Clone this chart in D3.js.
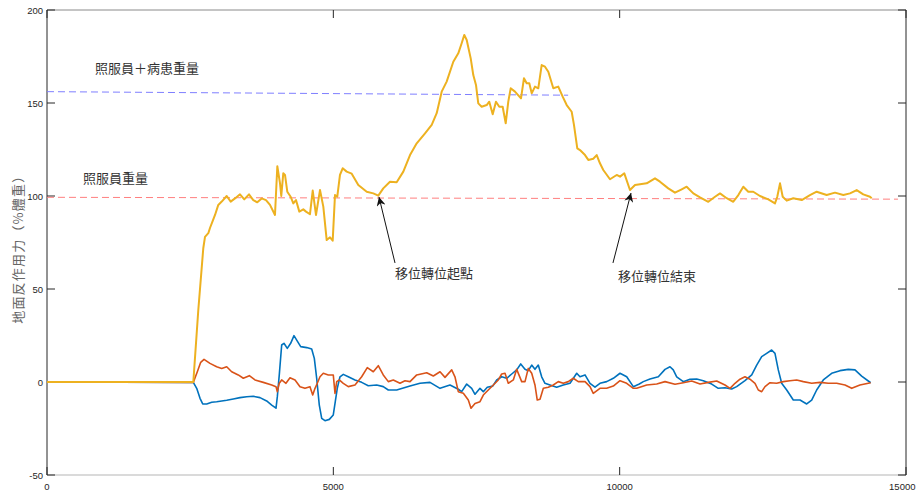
<!DOCTYPE html>
<html>
<head>
<meta charset="utf-8">
<script src="https://cdn.jsdelivr.net/npm/d3@7"></script>
<style>
  body { margin: 0; background: #fff; }
  svg { display: block; }
  .tick-label { font-family: "Liberation Sans", Arial, sans-serif; font-size: 9.5px; fill: #262626; }
  .cjk { font-family: "Noto Sans CJK TC", "Noto Sans CJK SC", sans-serif; fill: #333; }
</style>
</head>
<body>
<div id="chart"></div>
<script>
// vertical ground reaction force (orange), [time, %BW]
const vertical = [
  [0, 0], [500, 0], [1000, 0], [1500, 0], [2000, 0], [2555, 0],
  [2642, 38.7], [2729, 71.9], [2759, 78], [2817, 80], [2846, 82.8], [2899, 87], [2934, 89.8],
  [2991, 95.2], [3051, 97], [3138, 100], [3208, 97], [3283, 98.7], [3370, 100.9], [3445, 98.2],
  [3527, 100.9], [3602, 97.8], [3672, 96.6], [3749, 98.7], [3824, 97.8], [3894, 95.2], [3981, 89.8],
  [4022, 116], [4069, 106.8], [4091, 100], [4126, 112.2], [4156, 111.3], [4196, 102.3], [4255, 99.6],
  [4301, 96], [4348, 97.8], [4406, 91.6], [4476, 92.8], [4523, 91.6], [4592, 90.2], [4640, 102.9],
  [4697, 89.8], [4767, 103.2], [4825, 94.3], [4884, 76.3], [4942, 77.8], [4989, 76], [5029, 100.5],
  [5069, 99.6], [5116, 111.3], [5163, 114.9], [5233, 113.1], [5321, 112], [5436, 105.9], [5583, 102.3],
  [5698, 101.4], [5785, 100.2], [5872, 104.1], [5989, 107.7], [6106, 107.4], [6222, 113.1], [6339, 122],
  [6456, 128.3], [6601, 133.7], [6718, 138.2], [6805, 144.5], [6892, 156.1], [6979, 161.5], [7095, 172.2],
  [7182, 176.7], [7241, 182.1], [7287, 186.6], [7329, 183.9], [7399, 174], [7444, 165], [7491, 159.7],
  [7531, 149.8], [7590, 148], [7678, 148.9], [7723, 150.7], [7783, 143.9], [7840, 150.7], [7898, 148],
  [7957, 148], [8010, 139.1], [8055, 150.7], [8097, 157.9], [8172, 156.1], [8277, 152.5], [8329, 163.3],
  [8376, 160.6], [8422, 160.6], [8464, 155.2], [8521, 158.8], [8579, 157.9], [8638, 170.4], [8696, 169.5],
  [8754, 166.8], [8841, 157.9], [8928, 158.8], [9005, 153.4], [9075, 148.9], [9162, 145.3], [9202, 138.2],
  [9260, 125.6], [9307, 124.7], [9395, 122], [9452, 119.4], [9539, 120], [9599, 122], [9656, 117.6],
  [9714, 114], [9831, 109], [9948, 111.3], [10006, 110.4], [10081, 112.2], [10180, 103.2], [10268, 105.9],
  [10472, 106.8], [10617, 109.5], [10704, 107.7], [10849, 104.1], [10966, 101.8], [11083, 103.6],
  [11170, 105], [11286, 101.4], [11403, 99.3], [11548, 96.9], [11665, 99.6], [11752, 101.4], [11869, 98.8],
  [11984, 96.9], [12072, 100.5], [12159, 105], [12246, 102.3], [12333, 102.3], [12450, 100], [12596, 98.2],
  [12712, 96], [12752, 99.6], [12800, 106.8], [12847, 99.6], [12917, 97.5], [13032, 98.8], [13179, 97.8],
  [13323, 100.5], [13440, 102.3], [13615, 100.5], [13760, 101.8], [13905, 100.5], [14022, 101.4],
  [14139, 103.2], [14254, 100.9], [14371, 99.6], [14401, 98.8]
];

// anterior-posterior force (blue)
const shearAP = [
  [0, 0], [2555, -0.2], [2614, -3.4], [2672, -8.8], [2719, -11.8], [2789, -11.8], [2876, -10.9],
  [2963, -10.6], [3051, -10.2], [3138, -9.8], [3253, -9.1], [3370, -8.4], [3487, -7.9], [3602, -7.7],
  [3719, -8.4], [3836, -10.2], [3924, -12.4], [3999, -14.1], [4022, -7.9], [4056, 3.8], [4098, 19.9],
  [4138, 20.8], [4196, 18.1], [4255, 20.8], [4313, 24.9], [4371, 22], [4430, 19], [4535, 18.5],
  [4622, 17.7], [4668, 12.7], [4709, 2], [4755, -12.4], [4797, -19.5], [4854, -20.8], [4930, -20.1],
  [4999, -17.7], [5034, -10.6], [5069, -3.4], [5116, 2.8], [5174, 4.1], [5261, 2.8], [5378, 1.1],
  [5495, -0.2], [5610, -2], [5757, -1.6], [5872, -2.5], [5960, -4.3], [6106, -4.3], [6164, -3.8],
  [6339, -2.2], [6513, -0.7], [6688, -0.2], [6863, -3.4], [7037, -1.6], [7182, -3.9], [7241, -5.2],
  [7329, -1.1], [7416, -3.4], [7474, -6.6], [7561, -3.4], [7619, -5.2], [7688, -2.8], [7783, -2.2],
  [7853, 1.1], [7940, 2.8], [8027, 2], [8115, 4.3], [8202, 6.5], [8272, 9.7], [8347, 6.8], [8404, 6.1],
  [8464, 9.1], [8521, 6.8], [8579, 9.1], [8638, 2.8], [8696, -0.7], [8783, -1.6], [8900, -2.8],
  [9016, -1.6], [9133, -0.7], [9250, 4.7], [9307, 2.8], [9395, 3.8], [9482, -0.7], [9569, -2.8],
  [9656, -0.7], [9773, 0.2], [9889, 2], [10006, 4.7], [10123, 2.8], [10238, -2.5], [10343, -1.1],
  [10413, 0.2], [10530, 1.6], [10675, 2.8], [10792, 6.8], [10879, 8.2], [10936, 6.5], [10996, 2.8],
  [11111, 0.2], [11228, 1.5], [11345, 1.6], [11460, 0.7], [11607, -1.1], [11722, -3.4], [11839, -3.1],
  [11956, -3.8], [12043, -2.5], [12188, 0.7], [12306, 3.8], [12393, 9.1], [12480, 13.6], [12567, 15.4],
  [12654, 17.2], [12712, 15.4], [12770, 6.5], [12829, -0.7], [12917, -4.3], [13032, -9.7], [13149, -9.7],
  [13266, -11.8], [13353, -9.7], [13440, -4.3], [13556, 1.1], [13702, 4.7], [13847, 6.1], [13992, 6.8],
  [14109, 6.5], [14226, 3.2], [14383, -0.4]
];

// medial-lateral force (red)
const shearML = [
  [0, 0], [2555, -0.2], [2625, 5.5], [2684, 10.6], [2742, 12.2], [2846, 10], [2963, 8.2], [3051, 7.3],
  [3138, 8.2], [3225, 5.5], [3340, 3.8], [3428, 2], [3533, 3.4], [3632, 1.1], [3777, -0.2], [3924, -1.6],
  [3999, -2.5], [4022, -5.2], [4056, -0.7], [4098, 1.1], [4173, -0.7], [4243, 2.3], [4331, 1.1],
  [4418, -2.5], [4505, -3.4], [4592, -2.5], [4640, -7], [4680, -3.4], [4720, -0.7], [4767, 2.8],
  [4825, 4.7], [4912, 3.8], [4999, 3.8], [5029, -6.1], [5059, 0.2], [5104, 1.1], [5174, -0.7],
  [5261, -2.5], [5378, -1.6], [5495, 2.8], [5593, 7.7], [5698, 5.5], [5785, 8.8], [5872, 3.8],
  [5960, 0.2], [6047, 1.1], [6164, -0.7], [6251, 0.7], [6339, 0.2], [6456, 3.8], [6630, 5], [6746, 3.2],
  [6863, 5.5], [6950, 2.5], [7067, 6.5], [7124, 2.8], [7182, -5.2], [7270, -6.1], [7357, -9.7],
  [7404, -14.1], [7474, -11.5], [7561, -10.6], [7619, -7], [7706, -4.3], [7794, -1.6], [7881, 1.1],
  [7940, 4.3], [7998, 4.7], [8055, -0.7], [8143, 1.1], [8202, 6.8], [8289, 0.2], [8347, 0.2], [8404, 7.3],
  [8464, 4.7], [8521, -1.6], [8561, -9.7], [8609, -9.3], [8667, -3.4], [8754, -2.8], [8841, -1.6],
  [8928, 0.2], [9016, -0.7], [9103, 0.2], [9190, 2], [9277, 0.2], [9395, 0.2], [9482, -2.5], [9539, -6.1],
  [9656, -3.4], [9773, -3.4], [9889, -2.2], [10006, 0.7], [10123, -0.7], [10238, -3.4], [10297, -3.4],
  [10472, -1.6], [10647, -1.1], [10792, 0.2], [10966, -1.2], [11111, -0.4], [11258, 0.5], [11403, -1.1],
  [11548, -0.2], [11694, 0.5], [11839, -1.6], [11927, -3.4], [12014, -0.7], [12101, 1.5], [12188, 2.8],
  [12275, 1.5], [12363, -0.7], [12421, -4.3], [12480, -5.2], [12538, -2.5], [12625, -0.4], [12742, -0.7],
  [12857, 0.2], [12974, 0.7], [13091, 1.1], [13207, 0.2], [13353, -0.7], [13498, -0.2], [13643, -0.7],
  [13790, -0.7], [13935, -1.6], [14052, -3.4], [14196, -1.6], [14383, -0.4]
];

// reference lines (dashed)
const caregiverPatient = [[0, 156.1], [9100, 154.2]];
const caregiverOnly = [[0, 99.3], [14860, 98.3]];

const xTicks = [0, 5000, 10000, 15000];
const yTicks = [-50, 0, 50, 100, 150, 200];

const labels = [
  { text: "照服員＋病患重量", t: 838, v: 166 },
  { text: "照服員重量", t: 629, v: 107 },
  { text: "移位轉位起點", t: 6077, v: 56 },
  { text: "移位轉位結束", t: 9970, v: 54.3 }
];
const arrows = [
  { from: [6077, 64], to: [5797, 99.5] },
  { from: [9883, 64], to: [10198, 101.6] }
];

const W = 917, H = 492;
const margin = { top: 10, right: 11, bottom: 17, left: 47 };
const width = W - margin.left - margin.right,
    height = H - margin.top - margin.bottom;

const svg = d3.select("#chart").append("svg")
    .attr("width", W)
    .attr("height", H);

const defs = svg.append("defs");
defs.append("marker")
    .attr("id", "arrowhead")
    .attr("viewBox", "0 0 10 10")
    .attr("refX", 10).attr("refY", 5)
    .attr("markerWidth", 10).attr("markerHeight", 9)
    .attr("orient", "auto")
    .attr("markerUnits", "userSpaceOnUse")
    .append("path")
    .attr("d", "M0,0 L10,5 L0,10 L3,5 Z")
    .attr("fill", "#111");

const g = svg.append("g")
    .attr("transform", "translate(" + margin.left + "," + margin.top + ")");

const x = d3.scaleLinear().domain([0, 15000]).range([0, width]);
const y = d3.scaleLinear().domain([-50, 200]).range([height, 0]);

const line = d3.line()
    .x(d => x(d[0]))
    .y(d => y(d[1]));

// box
g.append("line").attr("x1", 0).attr("x2", width).attr("y1", 0).attr("y2", 0)
    .attr("stroke", "#8a8a8a");
g.append("line").attr("x1", 0).attr("x2", width).attr("y1", height).attr("y2", height)
    .attr("stroke", "#b5b5b5");
g.append("line").attr("x1", 0).attr("x2", 0).attr("y1", 0).attr("y2", height)
    .attr("stroke", "#262626");
g.append("line").attr("x1", width).attr("x2", width).attr("y1", 0).attr("y2", height)
    .attr("stroke", "#262626");

// ticks (inward, all four sides)
const tickLen = 8;
xTicks.forEach((t, i) => {
    g.append("line").attr("x1", x(t)).attr("x2", x(t)).attr("y1", height).attr("y2", height - tickLen)
        .attr("stroke", "#262626");
    g.append("line").attr("x1", x(t)).attr("x2", x(t)).attr("y1", 0).attr("y2", tickLen)
        .attr("stroke", "#262626");
    // last label would run past the window edge, so pin it to the right side
    let last = i === xTicks.length - 1;
    g.append("text").attr("class", "tick-label")
        .attr("x", last ? width + margin.right - 1.5 : x(t)).attr("y", height + 15)
        .attr("text-anchor", last ? "end" : "middle")
        .text(t);
});
yTicks.forEach(t => {
    g.append("line").attr("x1", 0).attr("x2", tickLen).attr("y1", y(t)).attr("y2", y(t))
        .attr("stroke", "#262626");
    g.append("line").attr("x1", width).attr("x2", width - tickLen).attr("y1", y(t)).attr("y2", y(t))
        .attr("stroke", "#262626");
    g.append("text").attr("class", "tick-label")
        .attr("x", -4).attr("y", y(t) + 3.5)
        .attr("text-anchor", "end")
        .text(t);
});

// y axis title
svg.append("text")
    .attr("class", "cjk")
    .attr("transform", "translate(23," + (margin.top + y(73)) + ") rotate(-90)")
    .attr("text-anchor", "middle")
    .style("font-size", "13px")
    .style("letter-spacing", "1.2px")
    .style("fill", "#666")
    .text("地面反作用力（%體重）");

// dashed reference lines
g.append("path").datum(caregiverPatient)
    .attr("d", line).attr("fill", "none")
    .attr("stroke", "#7f7fff").attr("stroke-width", 1)
    .attr("stroke-dasharray", "7,4");
g.append("path").datum(caregiverOnly)
    .attr("d", line).attr("fill", "none")
    .attr("stroke", "#ff7f7f").attr("stroke-width", 1)
    .attr("stroke-dasharray", "7,4");

// force curves
const series = [
    { data: shearAP, color: "#0072BD", w: 1.6 },
    { data: shearML, color: "#D95319", w: 1.6 },
    { data: vertical, color: "#EDB120", w: 2 }
];
series.forEach(s => {
    g.append("path").datum(s.data)
        .attr("d", line)
        .attr("fill", "none")
        .attr("stroke", s.color)
        .attr("stroke-width", s.w)
        .attr("stroke-linejoin", "round");
});

// annotations
labels.forEach(l => {
    g.append("text")
        .attr("class", "cjk")
        .attr("x", x(l.t)).attr("y", y(l.v))
        .style("font-size", "13px")
        .text(l.text);
});
arrows.forEach(a => {
    g.append("line")
        .attr("x1", x(a.from[0])).attr("y1", y(a.from[1]))
        .attr("x2", x(a.to[0])).attr("y2", y(a.to[1]))
        .attr("stroke", "#111").attr("stroke-width", 1)
        .attr("marker-end", "url(#arrowhead)");
});
</script>
</body>
</html>
